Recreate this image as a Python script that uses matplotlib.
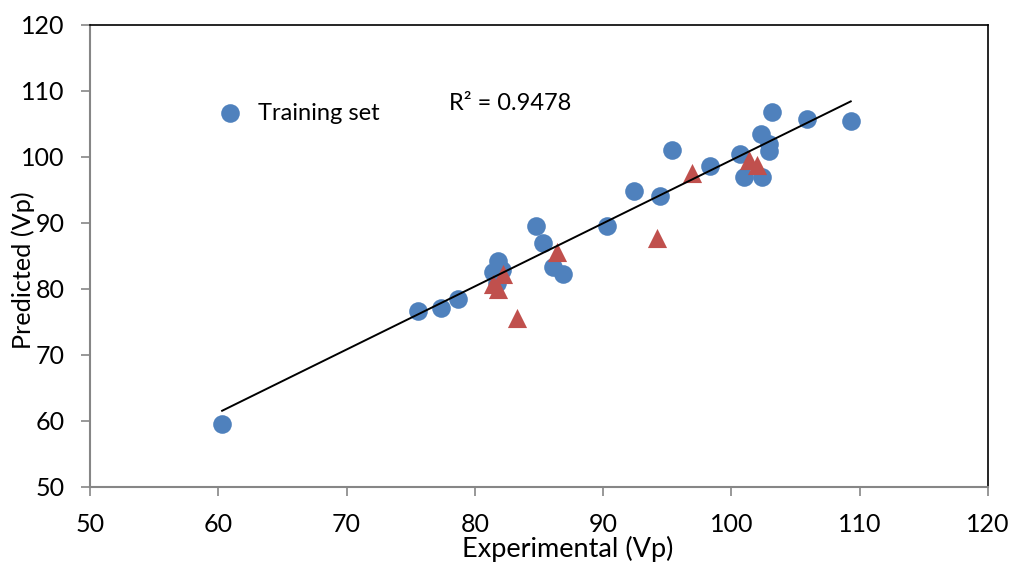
"""Predicted vs experimental Vp scatter with training trendline."""

import numpy as np
import matplotlib
matplotlib.use("Agg")
import matplotlib.pyplot as plt

plt.rcParams["font.family"] = ["Lato", "DejaVu Sans"]

# training set (blue circles)
train_exp = [60.3, 75.6, 77.4, 78.7, 81.8, 81.4, 82.1, 81.7, 84.8, 85.3, 86.1, 86.9,
             90.3, 92.4, 94.4, 95.4, 98.3, 100.7, 101.0, 102.3, 102.9, 102.9, 102.4,
             103.2, 105.9, 109.3]
train_pred = [59.5, 76.6, 77.1, 78.5, 84.3, 82.6, 82.9, 80.9, 89.6, 87.0, 83.4, 82.2,
              89.6, 94.9, 94.1, 101.1, 98.6, 100.4, 96.9, 103.5, 102.0, 100.9, 96.9,
              106.8, 105.7, 105.5]

# test set (red triangles)
test_exp = [81.4, 81.8, 82.2, 83.3, 86.4, 94.2, 96.9, 101.4, 102.0]
test_pred = [80.7, 80.0, 82.3, 75.6, 85.6, 87.7, 97.5, 99.6, 98.8]

R2_TEXT = "R² = 0.9478"
X_TICKS = [50, 60, 70, 80, 90, 100, 110, 120]
Y_TICKS = [50, 60, 70, 80, 90, 100, 110, 120]

BLUE = "#4F81BD"
RED = "#C0504D"
GRAY = "#868686"


def main() -> None:
    fig = plt.figure(figsize=(10.12, 5.63), dpi=100)
    ax = fig.add_axes([0.0889, 0.135, 0.8874, 0.8206])

    ax.scatter(train_exp, train_pred, s=180, color=BLUE, zorder=3, linewidths=0)
    ax.scatter(test_exp, test_pred, s=190, marker="^", color=RED, zorder=4, linewidths=0)

    slope, intercept = np.polyfit(train_exp, train_pred, 1)
    xs = np.array([min(train_exp), max(train_exp)])
    ax.plot(xs, slope * xs + intercept, color="black", lw=1.4, zorder=5)

    ax.set_xlim(X_TICKS[0], X_TICKS[-1])
    ax.set_ylim(Y_TICKS[0], Y_TICKS[-1])
    ax.set_xticks(X_TICKS)
    ax.set_yticks(Y_TICKS)
    ax.tick_params(labelsize=18, color=GRAY, length=6.5, width=1.2, direction="out", pad=12)
    for side in ("left", "bottom"):
        ax.spines[side].set_color(GRAY)
        ax.spines[side].set_linewidth(1.5)
    for side in ("top", "right"):
        ax.spines[side].set_color("black")
        ax.spines[side].set_linewidth(1.2)

    # legend-like entry
    ax.scatter([60.9], [106.7], s=180, color=BLUE, linewidths=0, clip_on=False)
    ax.text(63.1, 105.6, "Training set", fontsize=17, va="baseline", ha="left")
    ax.text(78.0, 107.1, R2_TEXT, fontsize=17, va="baseline", ha="left")

    fig.text(0.561, 0.0107, "Experimental (Vp)", fontsize=19.5, ha="center", va="baseline")
    fig.text(0.023, 0.520, "Predicted (Vp)", fontsize=18.2, rotation=90, ha="center", va="center")

    fig.savefig("out.png", dpi=100)
    plt.close(fig)


if __name__ == "__main__":
    main()
